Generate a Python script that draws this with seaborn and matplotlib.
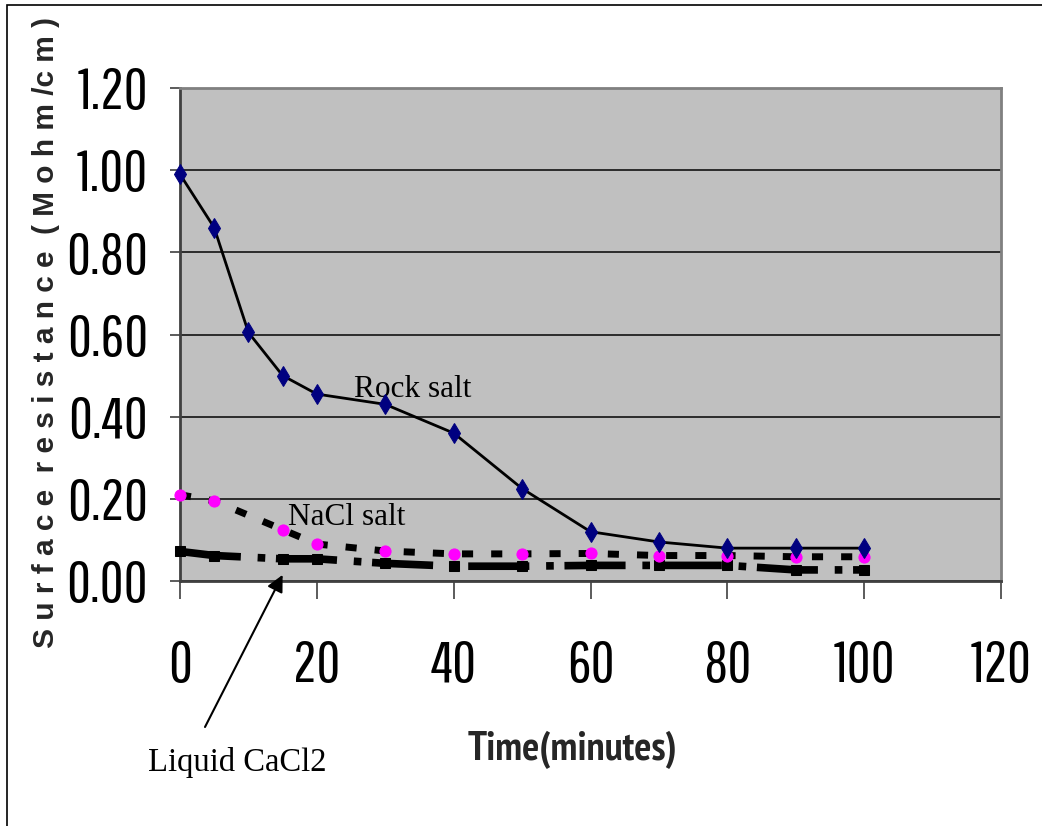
import matplotlib
matplotlib.use("Agg")
import matplotlib.pyplot as plt
import seaborn as sns
import pandas as pd
from matplotlib.patches import Rectangle

# ---- data ----
rock_x = [0, 5, 10, 15, 20, 30, 40, 50, 60, 70, 80, 90, 100]
rock_y = [0.99, 0.86, 0.605, 0.50, 0.455, 0.43, 0.36, 0.225, 0.12, 0.095, 0.08, 0.08, 0.08]
nacl_x = [0, 5, 15, 20, 30, 40, 50, 60, 70, 80, 90, 100]
nacl_y = [0.21, 0.195, 0.125, 0.09, 0.073, 0.066, 0.066, 0.067, 0.062, 0.062, 0.059, 0.059]
cacl_x = [0, 5, 15, 20, 30, 40, 50, 60, 70, 80, 90, 100]
cacl_y = [0.072, 0.062, 0.054, 0.054, 0.043, 0.036, 0.036, 0.038, 0.038, 0.038, 0.027, 0.027]
x_ticks = [0, 20, 40, 60, 80, 100, 120]
y_ticks = [0.0, 0.2, 0.4, 0.6, 0.8, 1.0, 1.2]
y_ticklabels = ["0.00", "0.20", "0.40", "0.60", "0.80", "1.00", "1.20"]

sns.set_style("white")
TICKFONT = ["Pathway Gothic One", "Liberation Sans", "DejaVu Sans"]
XLFONT = ["PT Sans Narrow", "Liberation Sans", "DejaVu Sans"]
SERIF = ["Liberation Serif", "DejaVu Serif"]
plt.rcParams["font.family"] = TICKFONT

W, H = 1042, 826
fig = plt.figure(figsize=(W / 100, H / 100), dpi=100)
fig.patch.set_facecolor("white")
L, R, T, B = 180, 1001, 88, 581
ax = fig.add_axes([L / W, 1 - B / H, (R - L) / W, (B - T) / H])
ax.set_facecolor("#c0c0c0")

# outer frame
fig.add_artist(Rectangle((7 / W, -0.01), 1.02 - 7 / W, 1 - 5 / H + 0.01,
                         transform=fig.transFigure, fill=False,
                         edgecolor="black", lw=1.2))

df_rock = pd.DataFrame({"x": rock_x, "y": rock_y})
df_nacl = pd.DataFrame({"x": nacl_x, "y": nacl_y})
df_cacl = pd.DataFrame({"x": cacl_x, "y": cacl_y})

sns.lineplot(data=df_cacl, x="x", y="y", ax=ax, color="black", lw=5.5,
             marker="s", markersize=6.5, markerfacecolor="black",
             markeredgecolor="black", sort=False, estimator=None, zorder=3)
ln = ax.lines[-1]
ln.set_dashes([8, 2.2, 1, 1.4])
ln.set_dash_capstyle("butt")
ln.set_clip_on(False)

sns.lineplot(data=df_nacl, x="x", y="y", ax=ax, color="black", lw=5,
             marker="o", markersize=8, markerfacecolor="#ff00ff",
             markeredgecolor="#ff00ff", sort=False, estimator=None, zorder=4)
ln = ax.lines[-1]
ln.set_dashes([1.6, 2.6])
ln.set_dash_capstyle("butt")
ln.set_clip_on(False)

sns.lineplot(data=df_rock, x="x", y="y", ax=ax, color="black", lw=2,
             marker="d", markersize=10.5, markerfacecolor="#000080",
             markeredgecolor="#000080", sort=False, estimator=None, zorder=5)
ax.lines[-1].set_clip_on(False)

ax.set_xlim(0, 120)
ax.set_ylim(0, 1.2)
ax.set_xticks(x_ticks)
ax.set_xticklabels([str(v) for v in x_ticks])
ax.set_yticks(y_ticks)
ax.set_yticklabels(y_ticklabels)
ax.yaxis.grid(True, color="#202020", lw=1.3)
ax.xaxis.grid(False)
ax.set_axisbelow(True)

for s in ax.spines.values():
    s.set_color("#808080")
    s.set_linewidth(2)
ax.spines["left"].set_color("#404040")
ax.spines["bottom"].set_color("#404040")

ax.tick_params(axis="y", direction="out", length=7, width=1.2, color="#404040",
               pad=16, labelsize=42, left=True)
ax.tick_params(axis="x", direction="out", length=13, width=1.2, color="#404040",
               pad=29, labelsize=42, bottom=True)
for lab in ax.get_xticklabels() + ax.get_yticklabels():
    lab.set_color("black")

ax.set_xlabel("")
ax.set_ylabel("")
fig.text(572 / W, 1 - 750 / H, "Time(minutes)", ha="center", va="center",
         fontsize=29, fontweight="bold", family=XLFONT)
fig.text(46 / W, 1 - 332 / H,
         "S u r f a c e  r e s i s t a n c e  ( M o h m /c m )",
         rotation=90, ha="center", va="center", fontsize=21.5,
         fontweight="bold", family=["Liberation Sans", "DejaVu Sans"])

ax.text(25.5, 0.465, "Rock salt", fontsize=22.5, family=SERIF, ha="left",
        va="center", color="black")
ax.text(15.8, 0.155, "NaCl salt", fontsize=22.5, family=SERIF, ha="left",
        va="center", color="black")
fig.text(237 / W, 1 - 762 / H, "Liquid CaCl2", ha="center", va="center",
         fontsize=23.5, family=SERIF, color="black")
ax.annotate("", xy=(15, 0.015), xycoords="data",
            xytext=(205 / W, 1 - 727 / H), textcoords="figure fraction",
            arrowprops=dict(arrowstyle="-|>", color="black", lw=1.5,
                            mutation_scale=25, shrinkA=0, shrinkB=0),
            annotation_clip=False)

fig.savefig("out.png", dpi=100, facecolor="white")
